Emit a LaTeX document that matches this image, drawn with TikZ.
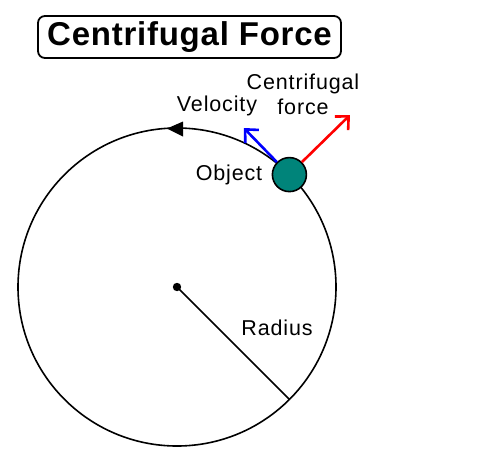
\documentclass[tikz,border=0pt]{standalone}
\usepackage{fontspec}
\setmainfont{Liberation Sans}[LetterSpace=4]
\newfontfamily\titlefont{Liberation Sans}[LetterSpace=2.3]
\usetikzlibrary{arrows.meta}
\definecolor{objteal}{HTML}{00847A}
\tikzset{
  lbl/.style={font=\fontsize{21.5}{25}\selectfont, inner sep=0pt, align=center},
  vec/.style={line width=2.6pt, -{Straight Barb[length=10pt,width=19pt,line width=2.6pt]}},
}
\begin{document}
\begin{tikzpicture}[x=1pt,y=-1pt]
\useasboundingbox (0,0) rectangle (484,469);
% title
\node[draw, line width=1.8pt, rounded corners=7pt, minimum width=303pt, minimum height=42pt,
      inner sep=0pt, font=\titlefont\fontsize{33}{36}\selectfont\bfseries] (title) at (189.5,37) {Centrifugal Force};
% orbit
\coordinate (c) at (177,287);
\draw[line width=1.6pt] (c) circle[radius=159];
\fill (c) circle[radius=4.2];
\coordinate (rim) at (289.4,399.4);
\draw[line width=1.6pt] (c) -- (rim);
% direction arrowhead on orbit
\fill (167,128.5) -- (183,121.5) -- (183,136.5) -- cycle;
% object
\node[circle, draw, line width=1.6pt, fill=objteal, minimum size=34pt, inner sep=0pt] (obj) at (289.4,174.6) {};
\draw[vec, blue] (obj.135) -- ++(-33,-34) coordinate (vtip);
\draw[vec, red] (obj.45) -- ++(48,-47) coordinate (ftip);
% labels
\node[lbl] (vel) at (217,106) {Velocity};
\node[lbl] (cf) at (303,94) {Centrifugal\\force};
\node[lbl] (objl) at (229,175) {Object};
\node[lbl] (rad) at (277,328) {Radius};
\end{tikzpicture}
\end{document}
